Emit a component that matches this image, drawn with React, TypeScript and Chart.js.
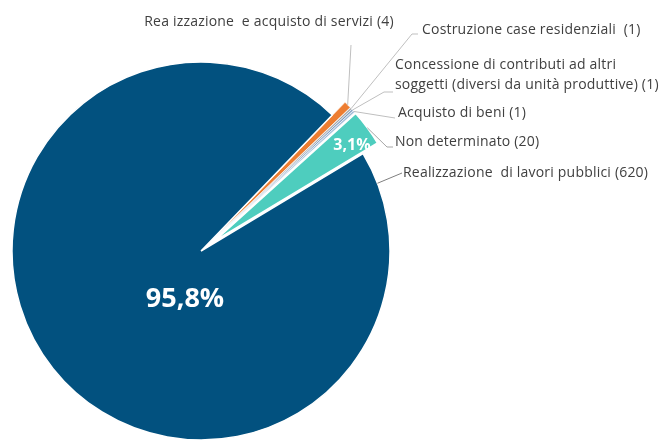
import React, { useEffect, useRef } from "react";
import { Chart, registerables } from "chart.js";

Chart.register(...registerables);

const categories = [
  "Realizzazione e acquisto di servizi",
  "Costruzione case residenziali",
  "Concessione di contributi ad altri soggetti (diversi da unità produttive)",
  "Acquisto di beni",
  "Non determinato",
  "Realizzazione di lavori pubblici",
];
const values = [4, 1, 1, 1, 20, 620];
const labelLines = [
  ["Rea izzazione  e acquisto di servizi (4)"],
  ["Costruzione case residenziali  (1)"],
  ["Concessione di contributi ad altri", "soggetti (diversi da unità produttive) (1)"],
  ["Acquisto di beni (1)"],
  ["Non determinato (20)"],
  ["Realizzazione  di lavori pubblici (620)"],
];
const colors = ["#ED7D31", "#A5A5A5", "#7F9CC0", "#9DB8D6", "#4ECDBE", "#02517F"];
// explode distance (px) of each slice from the pie centre
const explode = [18, 18, 18, 18, 18, 0];
const borderWidths = [0.6, 0.6, 0.6, 0.6, 1.5, 1.5];

// layout of callouts: leader path points (after arc edge) and text anchor
const calloutLayout = [
  { path: [[351, 45]], text: [269, 22], align: "center" },
  { path: [[412, 34], [418, 34]], text: [422, 30], align: "left" },
  { path: [[384, 92], [393, 92]], text: [395, 65], align: "left" },
  { path: [[395, 118]], text: [398, 113], align: "left" },
  { path: [[387, 147], [393, 147]], text: [395, 142], align: "left" },
  { path: [[402, 173]], text: [403, 173], align: "left" },
];
const lineColors = ["#BFBFBF", "#BFBFBF", "#BFBFBF", "#BFBFBF", "#A6A6A6", "#7F7F7F"];
const pctPositions: Record<number, [number, number, number]> = {
  5: [185, 299, 27],
  4: [352, 145, 16],
};

const explodePlugin = {
  id: "explode",
  beforeDatasetDraw(chart: any, args: any) {
    const ctx = chart.ctx;
    const meta = args.meta;
    meta.data.forEach((arc: any, i: number) => {
      const mid = (arc.startAngle + arc.endAngle) / 2;
      const d = explode[i] || 0;
      ctx.save();
      ctx.translate(Math.cos(mid) * d, Math.sin(mid) * d);
      arc.draw(ctx);
      ctx.restore();
    });
    return false;
  },
};

const calloutPlugin = {
  id: "callouts",
  afterDatasetsDraw(chart: any) {
    const ctx = chart.ctx;
    const meta = chart.getDatasetMeta(0);
    const total = values.reduce((a, b) => a + b, 0);
    ctx.save();
    meta.data.forEach((arc: any, i: number) => {
      const { x, y, startAngle, endAngle, outerRadius } = arc.getProps(
        ["x", "y", "startAngle", "endAngle", "outerRadius"],
        true
      );
      const mid = (startAngle + endAngle) / 2;
      const r = outerRadius + (explode[i] || 0);
      let sx = x + Math.cos(mid) * r;
      let sy = y + Math.sin(mid) * r;
      const lay = calloutLayout[i];
      if (i === 5) {
        // start on right side of main arc
        const a = -Math.PI / 2 + (69 * Math.PI) / 180;
        sx = x + Math.cos(a) * outerRadius;
        sy = y + Math.sin(a) * outerRadius;
      }
      ctx.strokeStyle = lineColors[i];
      ctx.lineWidth = 1;
      ctx.beginPath();
      ctx.moveTo(sx, sy);
      lay.path.forEach((p: number[]) => ctx.lineTo(p[0], p[1]));
      ctx.stroke();

      ctx.fillStyle = "#404040";
      ctx.font = '14px "Open Sans"';
      (ctx as any).letterSpacing = "0.2px";
      ctx.textBaseline = "middle";
      ctx.textAlign = lay.align;
      labelLines[i].forEach((t, k) => {
        ctx.fillText(t, lay.text[0], lay.text[1] + k * 20);
      });
      (ctx as any).letterSpacing = "0px";

      const pp = pctPositions[i];
      if (pp) {
        const pct = ((values[i] / total) * 100).toFixed(1).replace(".", ",") + "%";
        ctx.fillStyle = "#FFFFFF";
        ctx.font = `bold ${pp[2]}px "Open Sans"`;
        ctx.textAlign = "center";
        ctx.fillText(pct, pp[0], pp[1]);
      }
    });
    ctx.restore();
  },
};

export default function App() {
  const ref = useRef<HTMLCanvasElement | null>(null);
  useEffect(() => {
    if (!ref.current) return;
    const chart = new Chart(ref.current, {
      type: "pie",
      data: {
        labels: categories,
        datasets: [
          {
            data: values,
            backgroundColor: colors,
            borderColor: "#FFFFFF",
            borderWidth: borderWidths,
            clip: false,
          } as any,
        ],
      },
      options: {
        animation: false,
        responsive: false,
        rotation: 44,
        radius: 189,
        layout: { padding: { left: 0, right: 265, top: 62, bottom: 4 } },
        plugins: { legend: { display: false }, tooltip: { enabled: false } },
      } as any,
      plugins: [explodePlugin, calloutPlugin],
    });
    return () => chart.destroy();
  }, []);
  return (
    <div style={{ position: "absolute", left: 0, top: 0, width: 667, height: 444, background: "#fff" }}>
      <canvas ref={ref} width={667} height={444} />
    </div>
  );
}
